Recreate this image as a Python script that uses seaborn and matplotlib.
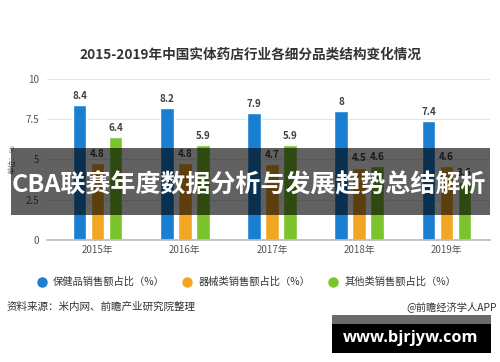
import matplotlib
matplotlib.use("Agg")
import matplotlib.pyplot as plt
import seaborn as sns
import pandas as pd
from matplotlib.patches import Rectangle
from matplotlib.lines import Line2D

years = ["2015年", "2016年", "2017年", "2018年", "2019年"]
series_names = ["保健品销售额占比（%）", "器械类销售额占比（%）", "其他类销售额占比（%）"]
health = [8.4, 8.2, 7.9, 8, 7.4]
device = [4.8, 4.8, 4.7, 4.5, 4.6]
other = [6.4, 5.9, 5.9, 4.6, 3.6]
yticks = [0, 2.5, 5, 7.5, 10]
ytick_labels = ["0", "2.5", "5", "7.5", "10"]
colors = ["#1b7fd1", "#f2a724", "#7cc42d"]

df = pd.DataFrame({
    "year": years * 3,
    "series": sum([[s] * len(years) for s in series_names], []),
    "value": health + device + other,
})

sns.set_theme(style="white")
plt.rcParams["font.family"] = ["Noto Sans CJK SC", "DejaVu Sans"]

fig = plt.figure(figsize=(5, 3.62), dpi=100)
ax = fig.add_axes([0.094, 0.337, 0.886, 0.445])

sns.barplot(data=df, x="year", y="value", hue="series", palette=colors,
            width=0.62, gap=0.25, ax=ax, legend=False, saturation=1)

for cont in ax.containers:
    labels = [("%g" % b.get_height()) for b in cont]
    ax.bar_label(cont, labels=labels, padding=3, fontsize=7,
                 fontweight="bold", color="#404040")

ax.set_ylim(0, 10)
ax.set_xlim(-0.58, 4.5)
ax.set_yticks(yticks)
ax.set_yticklabels(ytick_labels)
ax.yaxis.grid(True, color="#e4e4e4", linewidth=0.8)
ax.set_axisbelow(True)
for s in ["top", "right", "left"]:
    ax.spines[s].set_visible(False)
ax.spines["bottom"].set_color("#bbbbbb")
ax.tick_params(axis="both", length=0, labelsize=7, colors="#555555")
ax.tick_params(axis="y", pad=6)
ax.set_xlabel("")
ax.set_ylabel("单位：%", fontsize=5.5, color="#666666", labelpad=2)
ax.yaxis.set_label_coords(-0.068, 0.5)

fig.text(0.5, 1 - 55 / 362, "2015-2019年中国实体药店行业各细分品类结构变化情况",
         ha="center", va="center", fontsize=9.8, fontweight="bold", color="#333333")

handles = [Line2D([0], [0], marker="o", linestyle="", markersize=6.5,
                  markerfacecolor=c, markeredgecolor=c) for c in colors]
fig.legend(handles, series_names, loc="center", bbox_to_anchor=(0.492, 1 - 282 / 362),
           ncol=3, frameon=False, fontsize=7.4, handlelength=1.2, handletextpad=0.5,
           columnspacing=1.6, labelcolor="#333333")

fig.text(0.014, 1 - 307 / 362, "资料来源：米内网、前瞻产业研究院整理",
         ha="left", va="center", fontsize=7.6, color="#333333")
fig.text(0.994, 1 - 307 / 362, "@前瞻经济学人APP",
         ha="right", va="center", fontsize=7.4, color="#333333")

# overlay banner
fig.patches.append(Rectangle((11 / 500, 1 - 215 / 362), (490 - 11) / 500, (215 - 148) / 362,
                             transform=fig.transFigure, facecolor="black", alpha=0.62,
                             edgecolor="none", zorder=10))
fig.text(249 / 500, 1 - 185 / 362, "CBA联赛年度数据分析与发展趋势总结解析",
         ha="center", va="center", fontsize=18, fontweight="bold", color="white", zorder=11)

# watermark box
fig.patches.append(Rectangle((332 / 500, 1 - 324 / 362), 159 / 500, 9 / 362,
                             transform=fig.transFigure, facecolor="#6b6b6b",
                             edgecolor="none", zorder=10))
fig.patches.append(Rectangle((332 / 500, 1 - 353 / 362), 159 / 500, 29 / 362,
                             transform=fig.transFigure, facecolor="black",
                             edgecolor="none", zorder=10))
fig.text(411 / 500, 1 - 338 / 362, "www.bjrjyw.com", ha="center", va="center",
         fontsize=11.8, fontweight="bold", color="white", zorder=11,
         family=["Open Sans", "DejaVu Sans"])

fig.savefig("out.png", dpi=100)
